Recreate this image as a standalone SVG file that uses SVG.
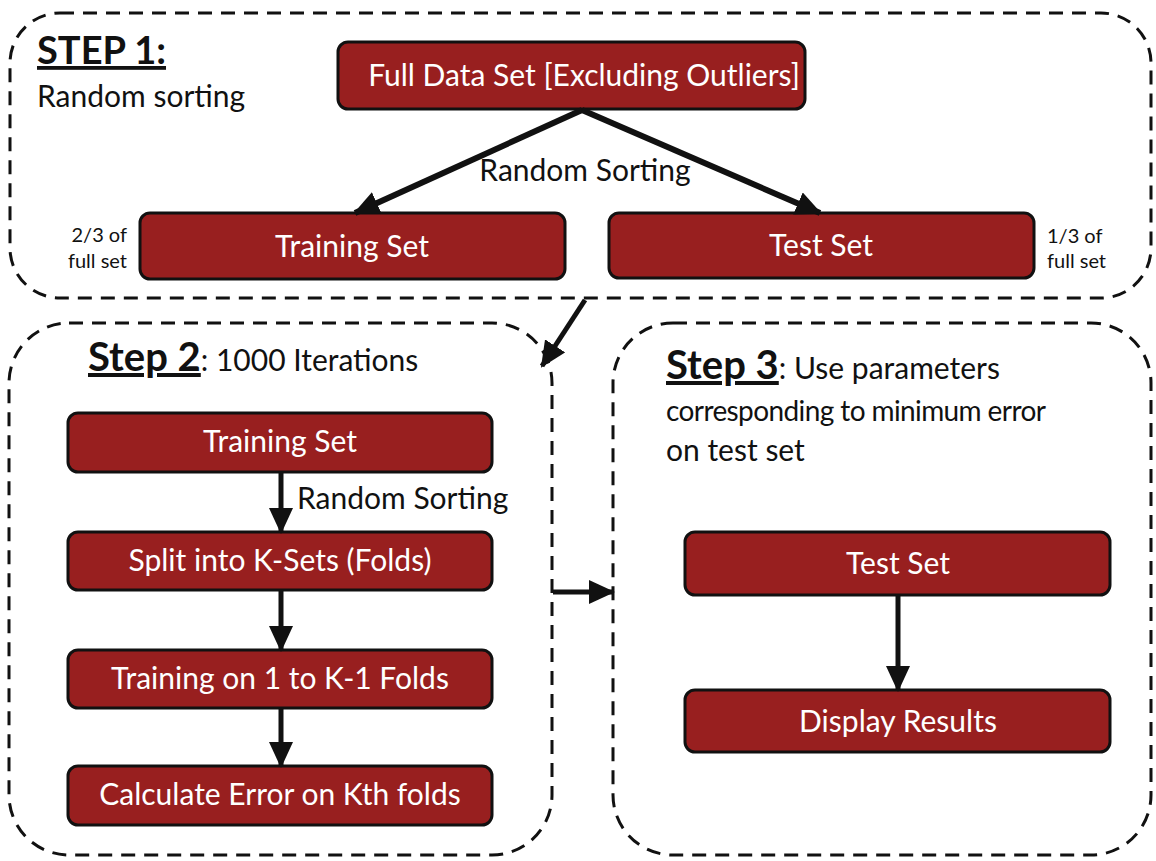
<svg xmlns="http://www.w3.org/2000/svg" width="1156" height="861" viewBox="0 0 1156 861">
<style>
.bg{fill:#ffffff}
.frame{fill:none;stroke:#111;stroke-width:3;stroke-dasharray:14 9}
.node rect{fill:#981f1f;stroke:#111;stroke-width:3}
.node text{fill:#ffffff;font-family:Lato,"Open Sans",sans-serif;font-size:30px;text-anchor:middle}
.lbl{fill:#111;font-family:Lato,"Open Sans",sans-serif;font-size:30px}
.small{fill:#111;font-family:Lato,"Open Sans",sans-serif;font-size:20px}
.title{font-weight:bold;font-size:40px;text-decoration:underline}
.conn{stroke:#111;fill:none}
</style>
<defs>
<marker id="ah" markerUnits="userSpaceOnUse" viewBox="0 0 26 24" refX="24" refY="12" markerWidth="26" markerHeight="24" orient="auto">
<path d="M0,0 L26,12 L0,24 Z" fill="#111"/>
</marker>
</defs>
<rect class="bg" x="0" y="0" width="1156" height="861"/>
<g id="frames">
<rect class="frame" x="10" y="13" width="1141" height="285" rx="50"/>
<rect class="frame" x="9" y="323" width="543" height="532" rx="60"/>
<rect class="frame" x="613" y="323" width="538" height="532" rx="60"/>
</g>
<g id="labels">
<text class="lbl title" x="37" y="64" style="font-size:38px">STEP 1:</text>
<text class="lbl" x="37" y="107">Random sorting</text>
<text class="small" x="127" y="242" text-anchor="end">2/3 of</text>
<text class="small" x="127" y="268" text-anchor="end">full set</text>
<text class="small" x="1047" y="243">1/3 of</text>
<text class="small" x="1047" y="268">full set</text>
<text class="lbl" x="585" y="181" text-anchor="middle">Random Sorting</text>
<text class="lbl" x="88" y="371"><tspan class="title">Step 2</tspan>: 1000 Iterations</text>
<text class="lbl" x="297" y="509">Random Sorting</text>
<text class="lbl" x="666" y="379"><tspan class="title">Step 3</tspan>: Use parameters</text>
<text class="lbl" x="666" y="421" style="font-size:28px;letter-spacing:-0.6px">corresponding to minimum error</text>
<text class="lbl" x="666" y="461">on test set</text>
</g>
<g id="n-full" class="node"><rect x="338" y="42" width="467" height="67" rx="10"/><text x="584" y="86">Full Data Set [Excluding Outliers]</text></g>
<g id="n-train1" class="node"><rect x="140" y="213" width="425" height="66" rx="10"/><text x="352" y="257">Training Set</text></g>
<g id="n-test1" class="node"><rect x="609" y="213" width="425" height="65" rx="10"/><text x="821" y="256">Test Set</text></g>
<g id="n-train2" class="node"><rect x="68" y="413" width="424" height="59" rx="10"/><text x="280" y="452">Training Set</text></g>
<g id="n-split" class="node"><rect x="68" y="532" width="424" height="58" rx="10"/><text x="280" y="571">Split into K-Sets (Folds)</text></g>
<g id="n-trainon" class="node"><rect x="68" y="650" width="424" height="58" rx="10"/><text x="280" y="689">Training on 1 to K-1 Folds</text></g>
<g id="n-calc" class="node"><rect x="68" y="766" width="424" height="59" rx="10"/><text x="280" y="805">Calculate Error on Kth folds</text></g>
<g id="n-test3" class="node"><rect x="685" y="532" width="425" height="63" rx="10"/><text x="898" y="574">Test Set</text></g>
<g id="n-display" class="node"><rect x="685" y="690" width="425" height="62" rx="10"/><text x="898" y="732">Display Results</text></g>
<g id="connectors">
<line class="conn" stroke-width="6" x1="582" y1="110" x2="355" y2="213" marker-end="url(#ah)"/>
<line class="conn" stroke-width="6" x1="582" y1="110" x2="820" y2="213" marker-end="url(#ah)"/>
<line class="conn" stroke-width="5" x1="585" y1="300" x2="542" y2="366" marker-end="url(#ah)"/>
<line class="conn" stroke-width="5" x1="281" y1="472" x2="281" y2="532" marker-end="url(#ah)"/>
<line class="conn" stroke-width="5" x1="281" y1="590" x2="281" y2="650" marker-end="url(#ah)"/>
<line class="conn" stroke-width="5" x1="281" y1="708" x2="281" y2="766" marker-end="url(#ah)"/>
<line class="conn" stroke-width="5" x1="898" y1="595" x2="898" y2="690" marker-end="url(#ah)"/>
<line class="conn" stroke-width="5" x1="553" y1="592" x2="613" y2="592" marker-end="url(#ah)"/>
</g>
</svg>
